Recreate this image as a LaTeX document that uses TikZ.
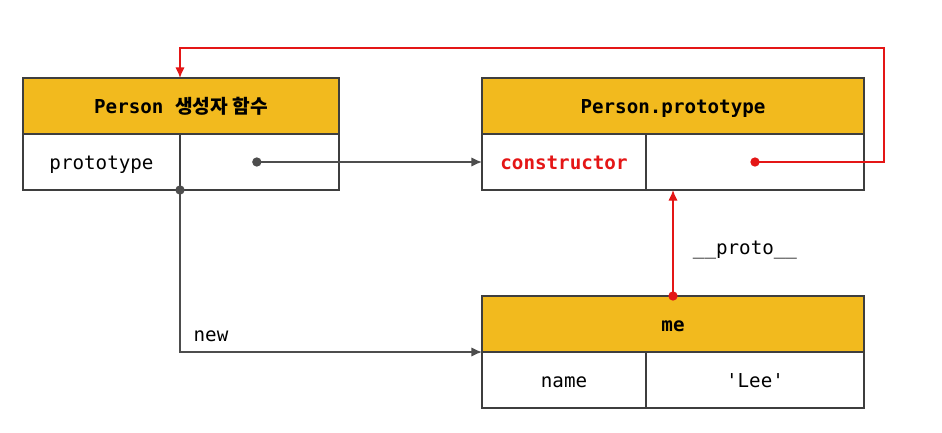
\documentclass[tikz,border=0pt]{standalone}
\usepackage{fontspec}
\setmonofont{DejaVu Sans Mono}
\newfontfamily\krfont{Noto Sans CJK KR}
\usepackage{xcolor}
\usepackage{tikz}
\usetikzlibrary{shapes, arrows.meta, positioning}

\definecolor{hdgold}{RGB}{242,186,30}
\definecolor{linegray}{RGB}{77,77,77}
\definecolor{ptred}{RGB}{228,22,22}

\tikzset{
  cellbox/.style={draw=linegray!80!black, line width=1.1pt, inner sep=0pt, outer sep=0pt,
    minimum height=42pt, text height=12pt, text depth=1pt,
    font=\ttfamily\fontsize{14.4}{16}\selectfont},
  headbox/.style={cellbox, fill=hdgold, font=\ttfamily\bfseries\fontsize{14.4}{16}\selectfont},
  link/.style={draw=linegray, line width=1pt, -{Latex[length=8pt,width=7pt]}},
  redlink/.style={draw=ptred, line width=1pt, -{Latex[length=8pt,width=7pt]}},
  dot/.style={circle, fill=#1, inner sep=0pt, minimum size=7pt}
}

\begin{document}
\begin{tikzpicture}[x=0.75pt,y=0.75pt,yscale=-1,xscale=1]
\useasboundingbox (0,0) rectangle (942,432);

%Shape: Person constructor
\node [headbox, minimum width=237pt] (personhead) at (181,106) {Person {\krfont\bfseries 생성자 함수}};
\node [cellbox, minimum width=117.75pt, anchor=north west] (protokey) at (personhead.south west) {prototype};
\node [cellbox, minimum width=119.25pt, anchor=north east] (protoval) at (personhead.south east) {};

%Shape: Person.prototype
\node [headbox, minimum width=286.5pt] (pphead) at (673,106) {Person.prototype};
\node [cellbox, minimum width=123pt, anchor=north west, text=ptred, font=\ttfamily\bfseries\fontsize{14.4}{16}\selectfont] (ctorkey) at (pphead.south west) {constructor};
\node [cellbox, minimum width=163.5pt, anchor=north east] (ctorval) at (pphead.south east) {};

%Shape: me
\node [headbox, minimum width=286.5pt] (mehead) at (673,324) {me};
\node [cellbox, minimum width=123pt, anchor=north west] (namekey) at (mehead.south west) {name};
\node [cellbox, minimum width=163.5pt, anchor=north east] (nameval) at (mehead.south east) {'Lee'};

%Straight Lines: prototype
\node [dot=linegray] (protodot) at ([xshift=-2]protoval.center) {};
\draw [link] (protodot.center) -- (ctorkey.west);

%Straight Lines: new
\node [dot=linegray] (newdot) at (protokey.south east) {};
\draw [link] (newdot.center) |- (mehead.south west);
\node [font=\ttfamily\fontsize{14.4}{16}\selectfont] (newlbl) at (211,336) {new};

%Straight Lines: constructor
\node [dot=ptred] (ctordot) at (ctorval.center) {};
\draw [redlink] (ctordot.center) -- ++(129,0) -- ++(0,-114) -| (protokey.east |- personhead.north);

%Straight Lines: __proto__
\node [dot=ptred] (medot) at (mehead.north) {};
\draw [redlink] (medot.center) -- (mehead.north |- ctorval.south);
\node [font=\ttfamily\fontsize{14.4}{16}\selectfont] (protolbl) at (745,250) {\_\_proto\_\_};

\end{tikzpicture}
\end{document}
